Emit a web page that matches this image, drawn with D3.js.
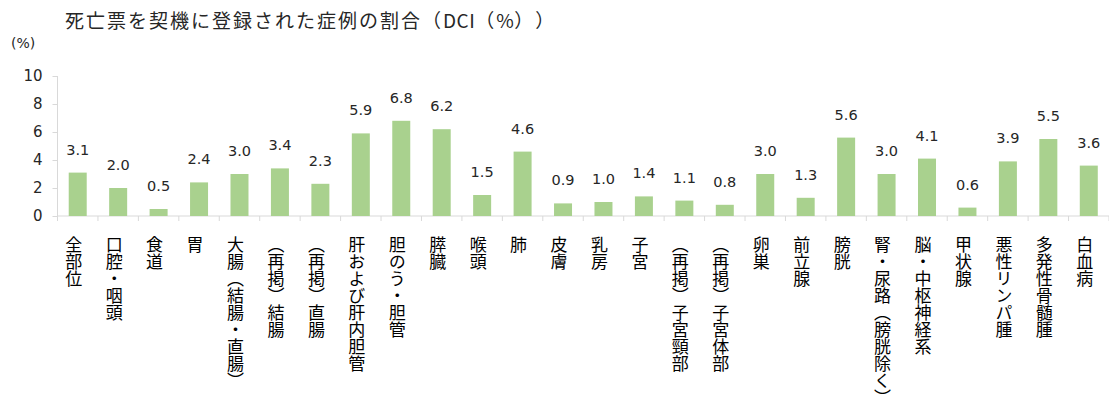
<!DOCTYPE html>
<html>
<head>
<meta charset="utf-8">
<script src="https://cdn.jsdelivr.net/npm/d3@7"></script>
<style>
    body { margin: 0; background: #fff; }
    svg { display: block; }
    svg text { text-spacing-trim: space-all; }
</style>
</head>
<body>
<div id="chart"></div>
<script>
// Data
const categories = ["全部位", "口腔・咽頭", "食道", "胃", "大腸（結腸・直腸）", "（再掲）結腸", "（再掲）直腸",
    "肝および肝内胆管", "胆のう・胆管", "膵臓", "喉頭", "肺", "皮膚", "乳房", "子宮", "（再掲）子宮頸部",
    "（再掲）子宮体部", "卵巣", "前立腺", "膀胱", "腎・尿路（膀胱除く）", "脳・中枢神経系", "甲状腺",
    "悪性リンパ腫", "多発性骨髄腫", "白血病"];
const dciValues = [3.1, 2.0, 0.5, 2.4, 3.0, 3.4, 2.3, 5.9, 6.8, 6.2, 1.5, 4.6, 0.9, 1.0, 1.4, 1.1, 0.8,
    3.0, 1.3, 5.6, 3.0, 4.1, 0.6, 3.9, 5.5, 3.6];
const yTicks = [0, 2, 4, 6, 8, 10];

const width = 1109, height = 403;
const jpFont = "'Noto Sans CJK JP', 'Noto Sans', sans-serif";
const numFont = "'DejaVu Sans', Verdana, sans-serif";

let svg = d3.select("#chart").append("svg")
    .attr("width", width)
    .attr("height", height);

// Scales
let x = d3.scaleBand()
    .domain(categories)
    .range([57.5, 1109])
    .paddingInner(0.555)
    .paddingOuter(0.2775);

let y = d3.scaleLinear()
    .domain([0, 10])
    .range([216, 76]);

// Title (latin parts without the wide spacing)
let title = svg.append("text")
    .attr("x", 65)
    .attr("y", 28)
    .attr("font-family", jpFont)
    .attr("font-size", 19)
    .attr("fill", "#262626");
[["死亡票を契機に登録された症例の割合（", 2], ["DCI", 0.5], ["（", 2], ["%", 0.5], ["））", 2]]
    .forEach(p => title.append("tspan").attr("letter-spacing", p[1]).text(p[0]));

// Unit label
svg.append("text")
    .attr("x", 11)
    .attr("y", 48)
    .attr("font-family", numFont)
    .attr("font-size", 14)
    .attr("fill", "#262626")
    .text("(%)");

// Y axis
let yAxis = svg.append("g")
    .attr("transform", "translate(57.5,0)")
    .call(d3.axisLeft(y).tickValues(yTicks).tickSize(5).tickPadding(10).tickFormat(d3.format("d")));
yAxis.select(".domain").attr("stroke", "#d9d9d9").attr("d", "M0,76V221");
yAxis.selectAll(".tick line").attr("stroke", "#d9d9d9");
yAxis.selectAll(".tick text")
    .attr("font-family", numFont)
    .attr("font-size", 15)
    .attr("fill", "#262626");

// X axis line and category ticks at band boundaries
let step = x.step();
let xStart = x.range()[0];
svg.append("line")
    .attr("x1", xStart).attr("x2", width)
    .attr("y1", y(0)).attr("y2", y(0))
    .attr("stroke", "#d9d9d9");
svg.selectAll(".cat-tick")
    .data(d3.range(categories.length + 1))
    .enter().append("line")
    .attr("class", "cat-tick")
    .attr("x1", i => xStart + i * step)
    .attr("x2", i => xStart + i * step)
    .attr("y1", y(0))
    .attr("y2", y(0) + 5)
    .attr("stroke", "#d9d9d9");

// Bars
svg.selectAll(".bar")
    .data(categories)
    .enter().append("rect")
    .attr("class", "bar")
    .attr("x", d => x(d))
    .attr("width", x.bandwidth())
    .attr("y", (d, i) => y(dciValues[i]))
    .attr("height", (d, i) => y(0) - y(dciValues[i]))
    .attr("fill", "#a9d18e");

// Value labels
svg.selectAll(".val")
    .data(categories)
    .enter().append("text")
    .attr("class", "val")
    .attr("x", d => x(d) + x.bandwidth() / 2)
    .attr("y", (d, i) => y(dciValues[i]) - 18)
    .attr("text-anchor", "middle")
    .attr("font-family", numFont)
    .attr("font-size", 14.5)
    .attr("fill", "#262626")
    .text((d, i) => d3.format(".1f")(dciValues[i]));

// Vertical category labels
svg.selectAll(".cat")
    .data(categories)
    .enter().append("text")
    .attr("class", "cat")
    .attr("x", d => x(d) + x.bandwidth() / 2 - 4)
    .attr("y", 236)
    .style("writing-mode", "vertical-rl")
    .attr("font-family", jpFont)
    .attr("font-size", 17)
    .attr("fill", "#000")
    .text(d => d);
</script>
</body>
</html>
